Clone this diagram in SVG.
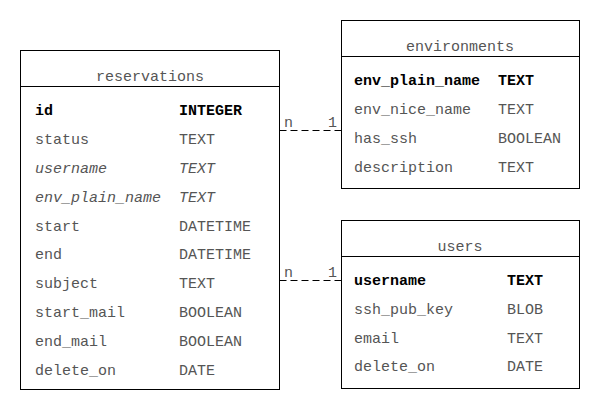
<svg xmlns="http://www.w3.org/2000/svg" width="600" height="410" viewBox="0 0 600 410">
<style>
text{font-family:"Liberation Mono","Courier New",monospace;font-size:15px;fill:#555}
.t{text-anchor:middle}
.k{font-weight:bold;fill:#000}
.f{font-style:italic}
.box{fill:#fff;stroke:#000;stroke-width:1}
.sep{stroke:#000;stroke-width:1}
.conn{stroke:#000;stroke-width:1;stroke-dasharray:7,4;fill:none}
</style>
<rect width="600" height="410" fill="#fff"/>
<g id="connectors">
<line class="conn" x1="279.5" y1="130.5" x2="341.5" y2="130.5"/>
<text x="284" y="127">n</text><text x="328" y="127">1</text>
<line class="conn" x1="279.5" y1="280.5" x2="341.5" y2="280.5"/>
<text x="284" y="277">n</text><text x="328" y="277">1</text>
</g>
<g id="reservations">
<rect class="box" x="20.5" y="50.5" width="259" height="339"/>
<line class="sep" x1="20.5" y1="86.5" x2="279.5" y2="86.5"/>
<text class="t" x="150" y="81">reservations</text>
<text class="k" x="35" y="115">id</text><text class="k" x="179" y="115">INTEGER</text>
<text x="35" y="144">status</text><text x="179" y="144">TEXT</text>
<text class="f" x="35" y="173">username</text><text class="f" x="179" y="173">TEXT</text>
<text class="f" x="35" y="202">env_plain_name</text><text class="f" x="179" y="202">TEXT</text>
<text x="35" y="231">start</text><text x="179" y="231">DATETIME</text>
<text x="35" y="259">end</text><text x="179" y="259">DATETIME</text>
<text x="35" y="288">subject</text><text x="179" y="288">TEXT</text>
<text x="35" y="317">start_mail</text><text x="179" y="317">BOOLEAN</text>
<text x="35" y="346">end_mail</text><text x="179" y="346">BOOLEAN</text>
<text x="35" y="375">delete_on</text><text x="179" y="375">DATE</text>
</g>
<g id="environments">
<rect class="box" x="341.5" y="20.5" width="238" height="168"/>
<line class="sep" x1="341.5" y1="56.5" x2="579.5" y2="56.5"/>
<text class="t" x="460" y="51">environments</text>
<text class="k" x="354" y="85">env_plain_name</text><text class="k" x="498" y="85">TEXT</text>
<text x="354" y="114">env_nice_name</text><text x="498" y="114">TEXT</text>
<text x="354" y="143">has_ssh</text><text x="498" y="143">BOOLEAN</text>
<text x="354" y="172">description</text><text x="498" y="172">TEXT</text>
</g>
<g id="users">
<rect class="box" x="341.5" y="220.5" width="238" height="168"/>
<line class="sep" x1="341.5" y1="256.5" x2="579.5" y2="256.5"/>
<text class="t" x="460" y="251">users</text>
<text class="k" x="354" y="285">username</text><text class="k" x="507" y="285">TEXT</text>
<text x="354" y="314">ssh_pub_key</text><text x="507" y="314">BLOB</text>
<text x="354" y="343">email</text><text x="507" y="343">TEXT</text>
<text x="354" y="371">delete_on</text><text x="507" y="371">DATE</text>
</g>
</svg>
